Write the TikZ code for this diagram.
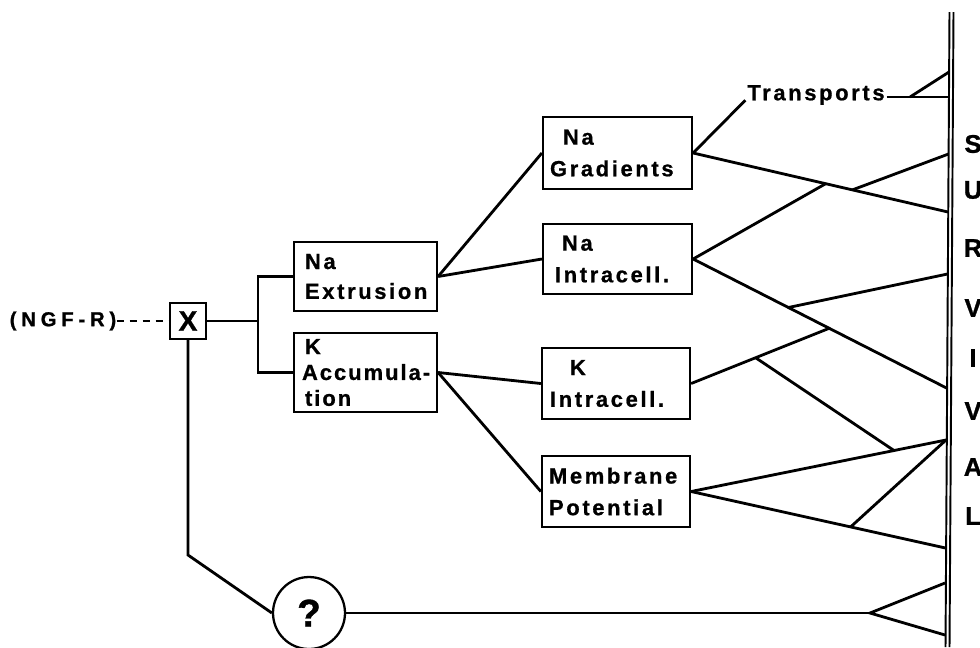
\documentclass[tikz,border=0pt]{standalone}
\usepackage{fontspec}
\setmainfont{Liberation Sans}
\newfontfamily\spaced{Liberation Sans Bold}[LetterSpace=12, FakeBold=0.8]
\newfontfamily\widespaced{Liberation Sans Bold}[LetterSpace=24, FakeBold=1]
\newfontfamily\heavy{Liberation Sans Bold}[FakeBold=1]
\begin{document}
\begin{tikzpicture}[x=0.02cm, y=-0.02cm,
    box/.style={draw, line width=1.3pt, align=left, inner xsep=0.05cm, inner ysep=0pt, font=\spaced\fontsize{12.5}{18}\selectfont},
    conn/.style={line width=1.6pt},
    letter/.style={inner sep=0pt, font=\heavy\fontsize{14.5}{14}\selectfont}]
  \useasboundingbox (0,0) rectangle (980,647);

  % receptor, X and ?
  \node[inner sep=0pt, font=\widespaced\fontsize{11.5}{12}\selectfont] (ngf) at (63,321) {(NGF-R)};
  \node[draw, line width=1.3pt, minimum size=0.72cm, inner sep=0pt, font=\heavy\fontsize{16}{16}\selectfont] (xbox) at (188,321) {X};
  \node[draw, circle, line width=1.3pt, minimum size=1.44cm, inner sep=0pt, font=\heavy\fontsize{22}{22}\selectfont] (q) at (309,613) {?};

  % boxes
  \node[box, text width=2.76cm, minimum height=1.38cm, font=\spaced\fontsize{12.5}{17}\selectfont] (naext) at (365.5,276.5) {\hspace*{0.17cm}Na\\\hspace*{0.17cm}Extrusion};
  \node[box, text width=2.76cm, minimum height=1.58cm, font=\spaced\fontsize{12.5}{14.7}\selectfont\addfontfeature{LetterSpace=9}] (kacc) at (365.5,372.5) {\hspace*{0.17cm}K\\\hspace*{0.11cm}\mbox{Accumula-}\\\hspace*{0.17cm}tion};
  \node[box, text width=2.88cm, minimum height=1.44cm] (nagrad) at (617.5,153) {\hspace*{0.35cm}Na\\\hspace*{0.09cm}Gradients};
  \node[box, text width=2.88cm, minimum height=1.40cm] (naint) at (617.5,259) {\hspace*{0.33cm}Na\\\hspace*{0.19cm}Intracell.};
  \node[box, text width=2.86cm, minimum height=1.42cm] (kint) at (616,383.5) {\hspace*{0.51cm}K\\\hspace*{0.11cm}Intracell.};
  \node[box, text width=2.86cm, minimum height=1.42cm] (memb) at (616,491.5) {\hspace*{0.09cm}Membrane\\\hspace*{0.09cm}Potential};

  \node[inner sep=1pt, font=\spaced\fontsize{12.5}{14}\selectfont] (trans) at (816,95) {Transports};

  % survival bar
  \draw[line width=1.1pt] (949.5,12) -- (945.5,647);
  \draw[line width=1.1pt] (953.5,12) -- (949.5,647);
  \foreach \ch/\yy in {S/144, U/190, R/248, V/308, I/358, V/411, A/467, L/516}
    \node[letter] (l\yy) at (973,\yy) {\ch};

  \coordinate (tA) at (949,72);
  \coordinate (tB) at (949,97);
  \coordinate (tj) at (910,97);
  \coordinate (s1) at (948.5,154);
  \coordinate (s2) at (948,212);
  \coordinate (s3) at (947.5,274);
  \coordinate (s4) at (946.5,388);
  \coordinate (s5) at (946,440);
  \coordinate (s6) at (945.5,548);
  \coordinate (s7) at (945,583);
  \coordinate (s8) at (945,635);
  \coordinate (brk) at (258,321);
  \coordinate (xk) at (188,555);
  \coordinate (qj) at (870,613);

  % left connectors
  \draw[conn, line width=1.4pt, dash pattern=on 4pt off 3.4pt] (ngf) -- (xbox);
  \draw[conn] (xbox) -- (brk);
  \draw[conn] (naext.west) -| (brk) |- (kacc.west);
  \draw[conn] (xbox) -- (xk) -- (q.west);
  \draw[conn] (naext.east) -- (nagrad.west);
  \draw[conn] (naext.east) -- (naint.west);
  \draw[conn] (kacc.east) -- (kint.west);
  \draw[conn] (kacc.east) -- (memb.west);

  % right connectors
  \draw[conn] (nagrad.east) -- (trans.base west);
  \draw[conn] (trans.east |- tB) -- (tB);
  \draw[conn] (tj) -- (tA);
  \draw[conn] (nagrad.east) -- (s2) coordinate[pos=0.52] (ja) coordinate[pos=0.625] (jb);
  \draw[conn] (naint.east) -- (ja);
  \draw[conn] (jb) -- (s1);
  \draw[conn] (naint.east) -- (s4) coordinate[pos=0.376] (jc) coordinate[pos=0.537] (jd);
  \draw[conn] (jc) -- (s3);
  \draw[conn] (kint.east) -- (jd) coordinate[pos=0.467] (je);
  \draw[conn] (memb.east) -- (s5) coordinate[pos=0.796] (jf);
  \draw[conn] (je) -- (jf);
  \draw[conn] (memb.east) -- (s6) coordinate[pos=0.627] (jg);
  \draw[conn] (jg) -- (s5);
  \draw[conn] (q) -- (qj);
  \draw[conn] (s7) -- (qj) -- (s8);
\end{tikzpicture}
\end{document}
